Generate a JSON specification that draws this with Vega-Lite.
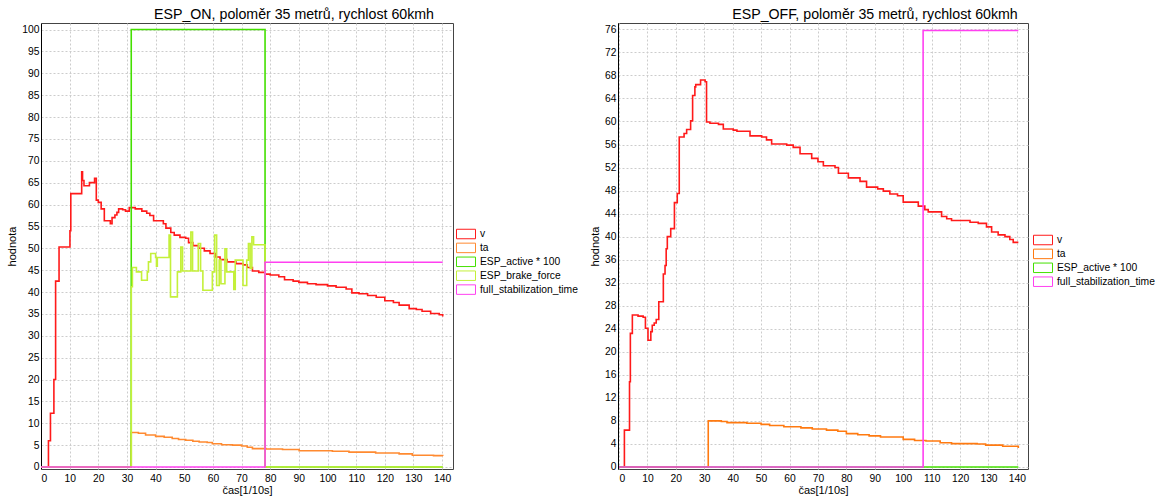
{
  "$schema": "https://vega.github.io/schema/vega-lite/v6.json",
  "background": "white",
  "padding": {"left": 6, "top": 7, "right": 0, "bottom": 0},
  "config": {
    "font": "Liberation Sans",
    "view": {"stroke": "#444444", "strokeWidth": 1},
    "axis": {
      "labelFont": "Liberation Sans", "labelFontSize": 10.3, "labelColor": "#000",
      "titleFont": "Liberation Sans", "titleFontSize": 11, "titleFontWeight": "normal", "titleColor": "#000",
      "gridColor": "#cccccc", "gridDash": [2, 2], "gridWidth": 1,
      "ticks": false, "labelPadding": 2, "domain": false
    },
    "axisX": {"labelPadding": 4},
    "legend": {
      "labelFont": "Liberation Sans", "labelFontSize": 10.3, "labelColor": "#000"
    },
    "title": {"font": "Liberation Sans", "fontSize": 14.2, "fontWeight": "normal", "color": "#000"}
  },
  "datasets": {
    "on": [
      {"s": "v", "t": 0, "y": 0}, {"s": "v", "t": 2.6, "y": 6}, {"s": "v", "t": 3.3, "y": 12.3}, {"s": "v", "t": 4.5, "y": 20},
      {"s": "v", "t": 5.1, "y": 42.5}, {"s": "v", "t": 6.3, "y": 50.3}, {"s": "v", "t": 10.1, "y": 54}, {"s": "v", "t": 10.4, "y": 62.5},
      {"s": "v", "t": 14.2, "y": 67.5}, {"s": "v", "t": 14.5, "y": 65.5}, {"s": "v", "t": 15.0, "y": 64.3}, {"s": "v", "t": 16.9, "y": 65},
      {"s": "v", "t": 18.7, "y": 66}, {"s": "v", "t": 19.3, "y": 61}, {"s": "v", "t": 20, "y": 60.5}, {"s": "v", "t": 21, "y": 59},
      {"s": "v", "t": 22.1, "y": 56.3}, {"s": "v", "t": 24.2, "y": 55.6}, {"s": "v", "t": 24.8, "y": 57}, {"s": "v", "t": 25.8, "y": 57.6},
      {"s": "v", "t": 26.5, "y": 58.2}, {"s": "v", "t": 27.1, "y": 59}, {"s": "v", "t": 28.5, "y": 58.8}, {"s": "v", "t": 29.5, "y": 58.5},
      {"s": "v", "t": 30.8, "y": 59.3}, {"s": "v", "t": 32.9, "y": 59}, {"s": "v", "t": 35.2, "y": 58.5}, {"s": "v", "t": 36.9, "y": 58},
      {"s": "v", "t": 38, "y": 57.5}, {"s": "v", "t": 39.3, "y": 56.3}, {"s": "v", "t": 42.7, "y": 55.6}, {"s": "v", "t": 43.6, "y": 54.6},
      {"s": "v", "t": 45.3, "y": 53.6}, {"s": "v", "t": 46.5, "y": 53}, {"s": "v", "t": 48.5, "y": 52.5}, {"s": "v", "t": 50.5, "y": 52.3},
      {"s": "v", "t": 51.5, "y": 51.3}, {"s": "v", "t": 53, "y": 50.6}, {"s": "v", "t": 55, "y": 50}, {"s": "v", "t": 57, "y": 49.4},
      {"s": "v", "t": 59, "y": 48.8}, {"s": "v", "t": 61, "y": 48}, {"s": "v", "t": 62.5, "y": 47.4}, {"s": "v", "t": 65, "y": 46.9},
      {"s": "v", "t": 68, "y": 46.5}, {"s": "v", "t": 70.5, "y": 46.2}, {"s": "v", "t": 72, "y": 45.6}, {"s": "v", "t": 73.8, "y": 44.8},
      {"s": "v", "t": 76, "y": 44.5}, {"s": "v", "t": 78.2, "y": 44.1}, {"s": "v", "t": 80, "y": 43.9}, {"s": "v", "t": 83, "y": 43.5},
      {"s": "v", "t": 85, "y": 42.8}, {"s": "v", "t": 88, "y": 42.5}, {"s": "v", "t": 90, "y": 42.2}, {"s": "v", "t": 93, "y": 41.9},
      {"s": "v", "t": 96, "y": 41.7}, {"s": "v", "t": 100, "y": 41.4}, {"s": "v", "t": 103, "y": 41.1}, {"s": "v", "t": 106.5, "y": 40.7},
      {"s": "v", "t": 108.5, "y": 39.8}, {"s": "v", "t": 111, "y": 39.6}, {"s": "v", "t": 114, "y": 39.2}, {"s": "v", "t": 117, "y": 38.8},
      {"s": "v", "t": 120, "y": 38.0}, {"s": "v", "t": 123, "y": 37.6}, {"s": "v", "t": 125, "y": 37.0}, {"s": "v", "t": 128.5, "y": 36.2},
      {"s": "v", "t": 131, "y": 36}, {"s": "v", "t": 133, "y": 35.6}, {"s": "v", "t": 136, "y": 35.1}, {"s": "v", "t": 139, "y": 34.8},
      {"s": "v", "t": 140.2, "y": 34.4},
      {"s": "ta", "t": 0, "y": 0}, {"s": "ta", "t": 31.5, "y": 7.9}, {"s": "ta", "t": 34, "y": 7.7}, {"s": "ta", "t": 36.5, "y": 7.3},
      {"s": "ta", "t": 40, "y": 7.0}, {"s": "ta", "t": 43, "y": 6.8}, {"s": "ta", "t": 45.8, "y": 6.5}, {"s": "ta", "t": 48, "y": 6.3},
      {"s": "ta", "t": 50.5, "y": 6.1}, {"s": "ta", "t": 53, "y": 5.9}, {"s": "ta", "t": 55.2, "y": 5.7}, {"s": "ta", "t": 58, "y": 5.6},
      {"s": "ta", "t": 59.8, "y": 5.3}, {"s": "ta", "t": 63, "y": 5.1}, {"s": "ta", "t": 66.8, "y": 5.0}, {"s": "ta", "t": 70, "y": 4.8},
      {"s": "ta", "t": 72, "y": 4.5}, {"s": "ta", "t": 73.8, "y": 4.2}, {"s": "ta", "t": 78.5, "y": 4.1}, {"s": "ta", "t": 84.3, "y": 4.0},
      {"s": "ta", "t": 90.1, "y": 3.7}, {"s": "ta", "t": 101.7, "y": 3.6}, {"s": "ta", "t": 107.5, "y": 3.4}, {"s": "ta", "t": 116.8, "y": 3.2},
      {"s": "ta", "t": 125, "y": 3.0}, {"s": "ta", "t": 129.6, "y": 2.7}, {"s": "ta", "t": 137, "y": 2.6}, {"s": "ta", "t": 140.2, "y": 2.5},
      {"s": "ESP_active * 100", "t": 0, "y": 0}, {"s": "ESP_active * 100", "t": 31.5, "y": 100}, {"s": "ESP_active * 100", "t": 78.2, "y": 0}, {"s": "ESP_active * 100", "t": 140.2, "y": 0},
      {"s": "ESP_brake_force", "t": 0, "y": 0}, {"s": "ESP_brake_force", "t": 31.5, "y": 41.2}, {"s": "ESP_brake_force", "t": 31.9, "y": 45.6},
      {"s": "ESP_brake_force", "t": 33.3, "y": 44.6}, {"s": "ESP_brake_force", "t": 35.1, "y": 42.7}, {"s": "ESP_brake_force", "t": 37.1, "y": 44.6},
      {"s": "ESP_brake_force", "t": 37.5, "y": 46.9}, {"s": "ESP_brake_force", "t": 38.3, "y": 48.8}, {"s": "ESP_brake_force", "t": 40, "y": 47.9},
      {"s": "ESP_brake_force", "t": 40.3, "y": 45.9}, {"s": "ESP_brake_force", "t": 40.6, "y": 47.9}, {"s": "ESP_brake_force", "t": 44.7, "y": 53},
      {"s": "ESP_brake_force", "t": 45.2, "y": 38.9}, {"s": "ESP_brake_force", "t": 47.6, "y": 44.6}, {"s": "ESP_brake_force", "t": 48.8, "y": 50.3},
      {"s": "ESP_brake_force", "t": 49.4, "y": 44.8}, {"s": "ESP_brake_force", "t": 52.3, "y": 53.7}, {"s": "ESP_brake_force", "t": 52.9, "y": 44.8},
      {"s": "ESP_brake_force", "t": 54.9, "y": 51.1}, {"s": "ESP_brake_force", "t": 55.7, "y": 44.8}, {"s": "ESP_brake_force", "t": 56.5, "y": 40.4},
      {"s": "ESP_brake_force", "t": 59.8, "y": 44.6}, {"s": "ESP_brake_force", "t": 60.6, "y": 53}, {"s": "ESP_brake_force", "t": 61.3, "y": 41.5},
      {"s": "ESP_brake_force", "t": 62.2, "y": 47.3}, {"s": "ESP_brake_force", "t": 62.8, "y": 41.9}, {"s": "ESP_brake_force", "t": 64.2, "y": 49.9},
      {"s": "ESP_brake_force", "t": 64.8, "y": 44.6}, {"s": "ESP_brake_force", "t": 67.3, "y": 40.6}, {"s": "ESP_brake_force", "t": 67.8, "y": 47.3},
      {"s": "ESP_brake_force", "t": 70.5, "y": 41.5}, {"s": "ESP_brake_force", "t": 71.8, "y": 47.3}, {"s": "ESP_brake_force", "t": 72.4, "y": 51.1},
      {"s": "ESP_brake_force", "t": 73.0, "y": 45.4}, {"s": "ESP_brake_force", "t": 73.6, "y": 52.6}, {"s": "ESP_brake_force", "t": 74.2, "y": 50.8},
      {"s": "ESP_brake_force", "t": 78.2, "y": 0}, {"s": "ESP_brake_force", "t": 140.2, "y": 0},
      {"s": "full_stabilization_time", "t": 0, "y": 0}, {"s": "full_stabilization_time", "t": 78.2, "y": 46.8}, {"s": "full_stabilization_time", "t": 140.2, "y": 46.8}
    ],
    "off": [
      {"s": "v", "t": 0, "y": 0}, {"s": "v", "t": 1.9, "y": 6.4}, {"s": "v", "t": 3.7, "y": 14.8}, {"s": "v", "t": 4.0, "y": 23.2},
      {"s": "v", "t": 4.7, "y": 26.4}, {"s": "v", "t": 6.7, "y": 26.2}, {"s": "v", "t": 8.5, "y": 26}, {"s": "v", "t": 9.3, "y": 24.1},
      {"s": "v", "t": 10.2, "y": 22}, {"s": "v", "t": 11.2, "y": 23.5}, {"s": "v", "t": 11.7, "y": 24.6}, {"s": "v", "t": 12.4, "y": 25},
      {"s": "v", "t": 13.1, "y": 25.6}, {"s": "v", "t": 14, "y": 28.7}, {"s": "v", "t": 15.6, "y": 33.5}, {"s": "v", "t": 16.2, "y": 35},
      {"s": "v", "t": 16.6, "y": 37.9}, {"s": "v", "t": 17, "y": 40}, {"s": "v", "t": 18.2, "y": 41.4}, {"s": "v", "t": 19.5, "y": 45.9},
      {"s": "v", "t": 20.5, "y": 47.5}, {"s": "v", "t": 21.2, "y": 57.3}, {"s": "v", "t": 22.9, "y": 57.9}, {"s": "v", "t": 23.8, "y": 58.6},
      {"s": "v", "t": 25.2, "y": 60.1}, {"s": "v", "t": 25.9, "y": 64.5}, {"s": "v", "t": 26.7, "y": 66}, {"s": "v", "t": 27, "y": 66.4},
      {"s": "v", "t": 28.7, "y": 67.2}, {"s": "v", "t": 30.3, "y": 66.9}, {"s": "v", "t": 30.8, "y": 59.9}, {"s": "v", "t": 32, "y": 59.7},
      {"s": "v", "t": 35, "y": 59.5}, {"s": "v", "t": 36.7, "y": 58.7}, {"s": "v", "t": 40.2, "y": 58.5}, {"s": "v", "t": 41.5, "y": 58.3},
      {"s": "v", "t": 46.1, "y": 57.5}, {"s": "v", "t": 50.2, "y": 57.3}, {"s": "v", "t": 51.9, "y": 56.8}, {"s": "v", "t": 53.7, "y": 56.1},
      {"s": "v", "t": 59, "y": 55.9}, {"s": "v", "t": 61.3, "y": 55.5}, {"s": "v", "t": 63.7, "y": 54.4}, {"s": "v", "t": 67.8, "y": 53.6},
      {"s": "v", "t": 70, "y": 53}, {"s": "v", "t": 71.9, "y": 52.3}, {"s": "v", "t": 76, "y": 52}, {"s": "v", "t": 77.2, "y": 51},
      {"s": "v", "t": 80.7, "y": 50.2}, {"s": "v", "t": 84.8, "y": 49.6}, {"s": "v", "t": 87.1, "y": 48.6}, {"s": "v", "t": 91, "y": 48.3},
      {"s": "v", "t": 93, "y": 47.9}, {"s": "v", "t": 95.3, "y": 47.4}, {"s": "v", "t": 98, "y": 47.1}, {"s": "v", "t": 100, "y": 46.0},
      {"s": "v", "t": 105.3, "y": 45.3}, {"s": "v", "t": 107.6, "y": 44.7}, {"s": "v", "t": 108.8, "y": 44.3}, {"s": "v", "t": 113.5, "y": 43.5},
      {"s": "v", "t": 115.3, "y": 43.1}, {"s": "v", "t": 117, "y": 42.8}, {"s": "v", "t": 123.5, "y": 42.5}, {"s": "v", "t": 126.4, "y": 42.3},
      {"s": "v", "t": 129.3, "y": 41.7}, {"s": "v", "t": 131.1, "y": 40.8}, {"s": "v", "t": 133.4, "y": 40.3}, {"s": "v", "t": 135.8, "y": 40.0},
      {"s": "v", "t": 137.5, "y": 39.5}, {"s": "v", "t": 138.7, "y": 39.0}, {"s": "v", "t": 140.5, "y": 39.0},
      {"s": "ta", "t": 0, "y": 0}, {"s": "ta", "t": 31.4, "y": 8.0}, {"s": "ta", "t": 36, "y": 7.9}, {"s": "ta", "t": 38, "y": 7.7},
      {"s": "ta", "t": 45, "y": 7.6}, {"s": "ta", "t": 50, "y": 7.4}, {"s": "ta", "t": 53, "y": 7.2}, {"s": "ta", "t": 58, "y": 7.0},
      {"s": "ta", "t": 64, "y": 6.8}, {"s": "ta", "t": 68, "y": 6.6}, {"s": "ta", "t": 73, "y": 6.4}, {"s": "ta", "t": 77, "y": 6.2},
      {"s": "ta", "t": 80, "y": 5.8}, {"s": "ta", "t": 84, "y": 5.6}, {"s": "ta", "t": 88, "y": 5.4}, {"s": "ta", "t": 92, "y": 5.2},
      {"s": "ta", "t": 100, "y": 4.8}, {"s": "ta", "t": 104, "y": 4.6}, {"s": "ta", "t": 108, "y": 4.5}, {"s": "ta", "t": 113, "y": 4.2},
      {"s": "ta", "t": 117, "y": 4.05}, {"s": "ta", "t": 126, "y": 4.0}, {"s": "ta", "t": 129, "y": 3.8}, {"s": "ta", "t": 135, "y": 3.6},
      {"s": "ta", "t": 140.5, "y": 3.3},
      {"s": "ESP_active * 100", "t": 0, "y": 0}, {"s": "ESP_active * 100", "t": 140.5, "y": 0},
      {"s": "full_stabilization_time", "t": 0, "y": 0}, {"s": "full_stabilization_time", "t": 107, "y": 75.8}, {"s": "full_stabilization_time", "t": 140.5, "y": 75.8}
    ]
  },
  "spacing": 10,
  "resolve": {
    "scale": {"x": "independent", "y": "independent", "color": "independent", "shape": "independent"},
    "legend": {"color": "independent", "shape": "independent"}
  },
  "hconcat": [
    {
      "title": {"text": "ESP_ON, poloměr 35 metrů, rychlost 60kmh", "anchor": "middle", "frame": "group", "dx": 47, "offset": 1},
      "width": 412,
      "height": 446,
      "data": {"name": "on"},
      "encoding": {
        "x": {"field": "t", "type": "quantitative", "scale": {"domain": [0, 143.8], "nice": false, "zero": false},
              "axis": {"values": [0,10,20,30,40,50,60,70,80,90,100,110,120,130,140], "title": "čas[1/10s]", "titlePadding": 1}},
        "y": {"field": "y", "type": "quantitative", "scale": {"domain": [-0.46, 101.5], "nice": false, "zero": false},
              "axis": {"values": [0,5,10,15,20,25,30,35,40,45,50,55,60,65,70,75,80,85,90,95,100], "title": "hodnota", "titlePadding": 4, "domain": true, "domainColor": "#000"}}
      },
      "layer": [
        {
          "mark": {"type": "point", "opacity": 0, "filled": false},
          "encoding": {
            "shape": {"field": "s", "type": "nominal",
              "scale": {"domain": ["v", "ta", "ESP_active * 100", "ESP_brake_force", "full_stabilization_time"],
                        "range": ["M-1,-0.5H1V0.5H-1Z", "M-1,-0.5H1V0.5H-1Z", "M-1,-0.5H1V0.5H-1Z", "M-1,-0.5H1V0.5H-1Z", "M-1,-0.5H1V0.5H-1Z"]},
              "legend": {"orient": "none", "legendX": 415, "legendY": 205, "title": null, "symbolSize": 361, "symbolStrokeColor": "#000", "symbolFillColor": "transparent", "symbolStrokeWidth": 1, "symbolOpacity": 1, "clipHeight": 12, "rowPadding": 1.9, "labelOffset": 4}}
          }
        },
        {
          "mark": {"type": "line", "interpolate": "step-after", "strokeWidth": 1.6},
          "encoding": {
            "color": {"field": "s", "type": "nominal",
              "scale": {"domain": ["v", "ta", "ESP_active * 100", "ESP_brake_force", "full_stabilization_time"],
                        "range": ["#ff1a1a", "#ff8a30", "#44e000", "#c4f03a", "#ff40f0"]},
              "legend": {"orient": "none", "legendX": 415, "legendY": 205, "title": null, "symbolType": "stroke", "symbolSize": 361, "symbolStrokeWidth": 2, "clipHeight": 12, "rowPadding": 1.9, "labelOffset": 4}}
          }
        }
      ]
    },
    {
      "title": {"text": "ESP_OFF, poloměr 35 metrů, rychlost 60kmh", "anchor": "middle", "frame": "group", "dx": 52, "offset": 1},
      "width": 410,
      "height": 446,
      "data": {"name": "off"},
      "encoding": {
        "x": {"field": "t", "type": "quantitative", "scale": {"domain": [-0.35, 143.9], "nice": false, "zero": false},
              "axis": {"values": [0,10,20,30,40,50,60,70,80,90,100,110,120,130,140], "title": "čas[1/10s]", "titlePadding": 1}},
        "y": {"field": "y", "type": "quantitative", "scale": {"domain": [-0.35, 77.1], "nice": false, "zero": false},
              "axis": {"values": [0,4,8,12,16,20,24,28,32,36,40,44,48,52,56,60,64,68,72,76], "title": "hodnota", "titlePadding": 4, "domain": true, "domainColor": "#000"}}
      },
      "layer": [
        {
          "mark": {"type": "point", "opacity": 0, "filled": false},
          "encoding": {
            "shape": {"field": "s", "type": "nominal",
              "scale": {"domain": ["v", "ta", "ESP_active * 100", "full_stabilization_time"],
                        "range": ["M-1,-0.5H1V0.5H-1Z", "M-1,-0.5H1V0.5H-1Z", "M-1,-0.5H1V0.5H-1Z", "M-1,-0.5H1V0.5H-1Z"]},
              "legend": {"orient": "none", "legendX": 415, "legendY": 211, "title": null, "symbolSize": 361, "symbolStrokeColor": "#000", "symbolFillColor": "transparent", "symbolStrokeWidth": 1, "symbolOpacity": 1, "clipHeight": 12, "rowPadding": 1.9, "labelOffset": 4}}
          }
        },
        {
          "mark": {"type": "line", "interpolate": "step-after", "strokeWidth": 1.6},
          "encoding": {
            "color": {"field": "s", "type": "nominal",
              "scale": {"domain": ["v", "ta", "ESP_active * 100", "full_stabilization_time"],
                        "range": ["#ff1a1a", "#ff7a10", "#44e000", "#ff40f0"]},
              "legend": {"orient": "none", "legendX": 415, "legendY": 211, "title": null, "symbolType": "stroke", "symbolSize": 361, "symbolStrokeWidth": 2, "clipHeight": 12, "rowPadding": 1.9, "labelOffset": 4}}
          }
        }
      ]
    }
  ]
}
